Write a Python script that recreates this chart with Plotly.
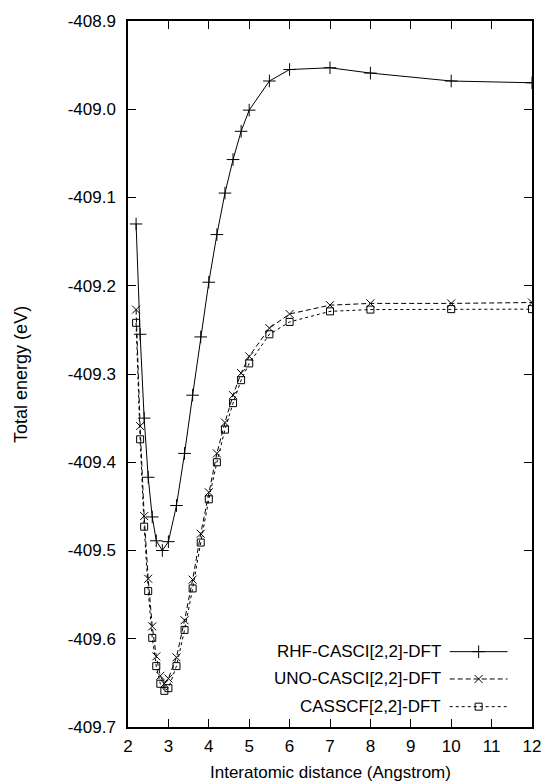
import plotly.graph_objects as go

# ---- data ----
x_rhf = [2.2, 2.3, 2.4, 2.5, 2.6, 2.7, 2.85, 3.0, 3.2, 3.4, 3.6, 3.8, 4.0, 4.2,
         4.4, 4.6, 4.8, 5.0, 5.5, 6.0, 7.0, 8.0, 10.0, 12.0]
e_rhf = [-409.130, -409.255, -409.350, -409.417, -409.462, -409.489, -409.500,
         -409.490, -409.449, -409.390, -409.324, -409.258, -409.196, -409.142,
         -409.095, -409.057, -409.025, -409.001, -408.968, -408.955, -408.953,
         -408.959, -408.968, -408.970]

x_uno = [2.2, 2.3, 2.4, 2.5, 2.6, 2.7, 2.8, 2.9, 3.0, 3.2, 3.4, 3.6, 3.8, 4.0,
         4.2, 4.4, 4.6, 4.8, 5.0, 5.5, 6.0, 7.0, 8.0, 10.0, 12.0]
e_uno = [-409.227, -409.359, -409.461, -409.532, -409.586, -409.620, -409.642,
         -409.651, -409.645, -409.621, -409.579, -409.533, -409.481, -409.434,
         -409.390, -409.355, -409.324, -409.299, -409.280, -409.248, -409.232,
         -409.222, -409.220, -409.220, -409.219]

x_cas = x_uno
e_cas = [-409.242, -409.374, -409.473, -409.546, -409.599, -409.631, -409.651,
         -409.659, -409.656, -409.631, -409.590, -409.543, -409.491, -409.442,
         -409.400, -409.363, -409.333, -409.307, -409.288, -409.255, -409.241,
         -409.229, -409.227, -409.2265, -409.2265]

series_names = ["RHF-CASCI[2,2]-DFT", "UNO-CASCI[2,2]-DFT", "CASSCF[2,2]-DFT"]
x_ticks = list(range(2, 13))
y_ticks = [-408.9, -409.0, -409.1, -409.2, -409.3, -409.4, -409.5, -409.6, -409.7]
y_tick_text = [f"{v:.1f}" for v in y_ticks]

# ---- styles ----
FONT = "Liberation Sans, Arial, Helvetica, sans-serif"
FS = 17
styles = [
    dict(dash="solid", symbol="cross-thin-open", msize=9),
    dict(dash="5px,3px", symbol="x-thin-open", msize=8),
    dict(dash="3px,3px", symbol="square-open", msize=7),
]
data = [(x_rhf, e_rhf), (x_uno, e_uno), (x_cas, e_cas)]

fig = go.Figure()
for (xs, ys), st, nm in zip(data, styles, series_names):
    fig.add_trace(go.Scatter(
        x=xs, y=ys, mode="lines+markers", name=nm, showlegend=False,
        line=dict(color="black", width=1, dash=st["dash"]),
        marker=dict(symbol=st["symbol"], size=st["msize"], color="black",
                    line=dict(color="black", width=1)),
    ))

# ---- gnuplot-style key (text left, sample right) ----
key_text_right = 0.779
key_line = (0.7963, 0.9395)
key_rows = [0.1067, 0.068, 0.0288]
for st, nm, ky in zip(styles, series_names, key_rows):
    fig.add_trace(go.Scatter(
        x=[key_line[0], key_line[1]], y=[ky, ky], mode="lines",
        xaxis="x2", yaxis="y2", showlegend=False, hoverinfo="skip",
        line=dict(color="black", width=1, dash=st["dash"]),
    ))
    fig.add_trace(go.Scatter(
        x=[(key_line[0] + key_line[1]) / 2], y=[ky], mode="markers",
        xaxis="x2", yaxis="y2", showlegend=False, hoverinfo="skip",
        marker=dict(symbol=st["symbol"], size=st["msize"], color="black",
                    line=dict(color="black", width=1)),
    ))
    fig.add_annotation(x=key_text_right, y=ky, xref="paper", yref="paper",
                       text=nm, showarrow=False, xanchor="right", yanchor="middle",
                       font=dict(family=FONT, size=FS, color="black"))

axis_common = dict(
    showgrid=False, zeroline=False, showline=True, linecolor="black", linewidth=1.5,
    mirror="allticks", ticks="inside", ticklen=8, tickwidth=1.2, tickcolor="black",
    tickfont=dict(family=FONT, size=FS, color="black"), automargin=False,
)
fig.update_layout(
    width=544, height=783,
    margin=dict(l=127.5, r=11.5, t=21, b=56),
    paper_bgcolor="white", plot_bgcolor="white",
    showlegend=False,
    xaxis=dict(range=[2, 12], tickvals=x_ticks, ticklabelstandoff=3, **axis_common),
    yaxis=dict(range=[-409.7, -408.9], tickvals=y_ticks, ticktext=y_tick_text,
               ticklabelstandoff=7, **axis_common),
    xaxis2=dict(range=[0, 1], overlaying="x", visible=False, fixedrange=True),
    yaxis2=dict(range=[0, 1], overlaying="y", visible=False, fixedrange=True),
)
fig.add_annotation(x=0.5, y=-0.065, xref="paper", yref="paper",
                   text="Interatomic distance (Angstrom)", showarrow=False,
                   xanchor="center", yanchor="middle",
                   font=dict(family=FONT, size=FS, color="black"))
fig.add_annotation(x=-0.265, y=0.5, xref="paper", yref="paper",
                   text="Total energy (eV)", showarrow=False, textangle=-90,
                   xanchor="center", yanchor="middle",
                   font=dict(family=FONT, size=18, color="black"))

fig.write_html(
    "out.html",
    config={"displayModeBar": False},
    post_script="document.body.style.margin='0';document.body.style.overflow='hidden';",
)
